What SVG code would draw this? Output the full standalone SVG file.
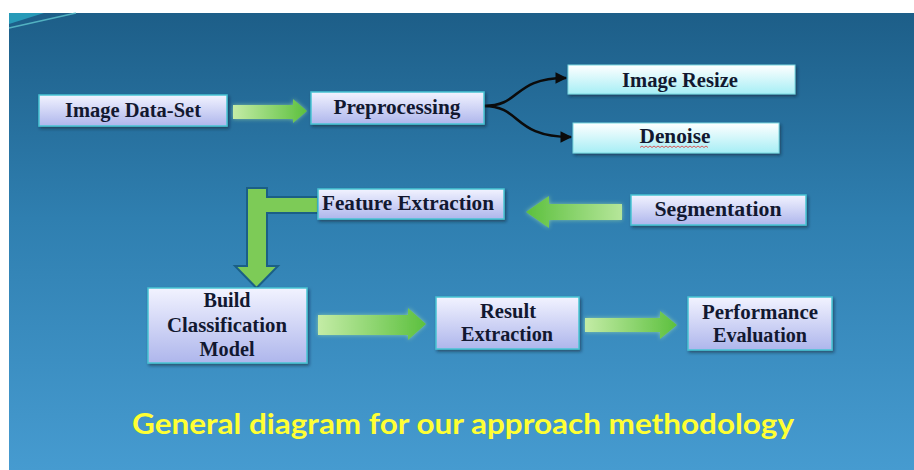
<svg xmlns="http://www.w3.org/2000/svg" width="914" height="470" viewBox="0 0 914 470">
<defs>
<linearGradient id="bg" x1="0" y1="0" x2="0" y2="1">
<stop offset="0" stop-color="#1d5e88"/>
<stop offset="0.45" stop-color="#2f7fb0"/>
<stop offset="1" stop-color="#469bd0"/>
</linearGradient>
<linearGradient id="box" x1="0" y1="0" x2="0" y2="1">
<stop offset="0" stop-color="#f2f3ff"/>
<stop offset="1" stop-color="#aeb6ec"/>
</linearGradient>
<linearGradient id="cyanbox" x1="0" y1="0" x2="0" y2="1">
<stop offset="0" stop-color="#ffffff"/>
<stop offset="1" stop-color="#a6eef5"/>
</linearGradient>
<linearGradient id="gr" x1="0" y1="0" x2="1" y2="0">
<stop offset="0" stop-color="#c4eca6"/>
<stop offset="1" stop-color="#5cc03e"/>
</linearGradient>
<linearGradient id="grl" x1="0" y1="0" x2="1" y2="0">
<stop offset="0" stop-color="#5cc03e"/>
<stop offset="1" stop-color="#b6e69a"/>
</linearGradient>
<filter id="sh" x="-10%" y="-20%" width="120%" height="150%">
<feDropShadow dx="1.5" dy="2" stdDeviation="1.5" flood-color="#0a2030" flood-opacity="0.55"/>
</filter>
<filter id="glow" x="-10%" y="-30%" width="120%" height="160%">
<feDropShadow dx="0" dy="0" stdDeviation="2" flood-color="#b8f0a0" flood-opacity="0.6"/>
</filter>
<marker id="ah" viewBox="0 0 10 10" refX="9" refY="5" markerWidth="4.5" markerHeight="4.5" orient="auto">
<path d="M0,0 L10,5 L0,10 z" fill="#0b0b0b"/>
</marker>
<style>
.bx{fill:url(#box);stroke:#48c4d4;stroke-width:1.5;filter:url(#sh)}
.cx{fill:url(#cyanbox);stroke:#7ad8e0;stroke-width:1;filter:url(#sh)}
.t{font-family:"Liberation Serif",serif;font-weight:bold;font-size:20.5px;fill:#121830;text-anchor:middle}
.arr{fill:url(#gr);filter:url(#glow)}
.cv{fill:none;stroke:#0b0b0b;stroke-width:2.6;marker-end:url(#ah)}
</style>
</defs>
<rect x="9" y="13" width="905" height="457" fill="url(#bg)"/>
<polygon points="9,13 44,13 9,24" fill="#2aa9c4" opacity="0.8"/>
<line x1="9" y1="28" x2="76" y2="13" stroke="#5fc6cf" stroke-width="1.5" opacity="0.8"/>

<g id="connectors">
<polygon class="arr" points="233,105 293,105 293,99 307,111 293,123 293,119 233,119"/>
<path class="cv" d="M484,106 C522,106 512,78 566,78"/>
<path class="cv" d="M484,106 C522,106 512,137 571,137"/>
<polygon points="622,204 549,204 549,196 526,212 549,228 549,220 622,220" fill="url(#grl)" filter="url(#glow)"/>
<path d="M267,197 L318,197 L318,213 L267,213 L267,266 L278,266 L256.5,288 L235,266 L247,266 L247,188 L267,188 Z" fill="#7dcb57" stroke="#1b5f86" stroke-width="2"/>
<polygon class="arr" points="318,315 408,315 408,308 426,324 408,340 408,335 318,335"/>
<polygon class="arr" points="585,318 660,318 660,311 677,325 660,339 660,332 585,332"/>
</g>

<g id="image-data-set">
<rect class="bx" x="39" y="95" width="188" height="31"/>
<text class="t" x="133" y="117" textLength="136" lengthAdjust="spacingAndGlyphs">Image Data-Set</text>
</g>
<g id="preprocessing">
<rect class="bx" x="311" y="92" width="173" height="32"/>
<text class="t" x="397" y="114" textLength="127" lengthAdjust="spacingAndGlyphs">Preprocessing</text>
</g>
<g id="image-resize">
<rect class="cx" x="568" y="65" width="227" height="29"/>
<text class="t" x="680" y="87" textLength="116" lengthAdjust="spacingAndGlyphs">Image Resize</text>
</g>
<g id="denoise">
<rect class="cx" x="573" y="123" width="206" height="30"/>
<text class="t" x="675" y="143" textLength="71" lengthAdjust="spacingAndGlyphs">Denoise</text>
<path d="M640,147.5 l2,-1.5 l2,1.5 l2,-1.5 l2,1.5 l2,-1.5 l2,1.5 l2,-1.5 l2,1.5 l2,-1.5 l2,1.5 l2,-1.5 l2,1.5 l2,-1.5 l2,1.5 l2,-1.5 l2,1.5 l2,-1.5 l2,1.5 l2,-1.5 l2,1.5 l2,-1.5 l2,1.5 l2,-1.5 l2,1.5 l2,-1.5 l2,1.5 l2,-1.5 l2,1.5 l2,-1.5 l2,1.5 l2,-1.5 l2,1.5 l2,-1.5 l2,1.5" fill="none" stroke="#e03030" stroke-width="0.8"/>
</g>
<g id="feature-extraction">
<rect class="bx" x="318" y="189" width="186" height="30"/>
<text class="t" x="408" y="210" textLength="172" lengthAdjust="spacingAndGlyphs">Feature Extraction</text>
</g>
<g id="segmentation">
<rect class="bx" x="631" y="195" width="175" height="30"/>
<text class="t" x="718" y="216" textLength="127" lengthAdjust="spacingAndGlyphs">Segmentation</text>
</g>
<g id="build-classification-model">
<rect class="bx" x="148" y="288" width="159" height="75"/>
<text class="t" x="227" y="307" textLength="47" lengthAdjust="spacingAndGlyphs">Build</text>
<text class="t" x="227" y="332" textLength="120" lengthAdjust="spacingAndGlyphs">Classification</text>
<text class="t" x="227" y="356" textLength="55" lengthAdjust="spacingAndGlyphs">Model</text>
</g>
<g id="result-extraction">
<rect class="bx" x="436" y="297" width="143" height="52"/>
<text class="t" x="508" y="318" textLength="56" lengthAdjust="spacingAndGlyphs">Result</text>
<text class="t" x="507" y="341" textLength="92" lengthAdjust="spacingAndGlyphs">Extraction</text>
</g>
<g id="performance-evaluation">
<rect class="bx" x="688" y="297" width="144" height="53"/>
<text class="t" x="760" y="319" textLength="116" lengthAdjust="spacingAndGlyphs">Performance</text>
<text class="t" x="760" y="342" textLength="94" lengthAdjust="spacingAndGlyphs">Evaluation</text>
</g>

<text x="463" y="434" font-family="Lato, 'Open Sans', sans-serif" font-weight="bold" font-size="29" fill="#ffff33" text-anchor="middle" textLength="662" lengthAdjust="spacingAndGlyphs">General diagram for our approach methodology</text>
</svg>
